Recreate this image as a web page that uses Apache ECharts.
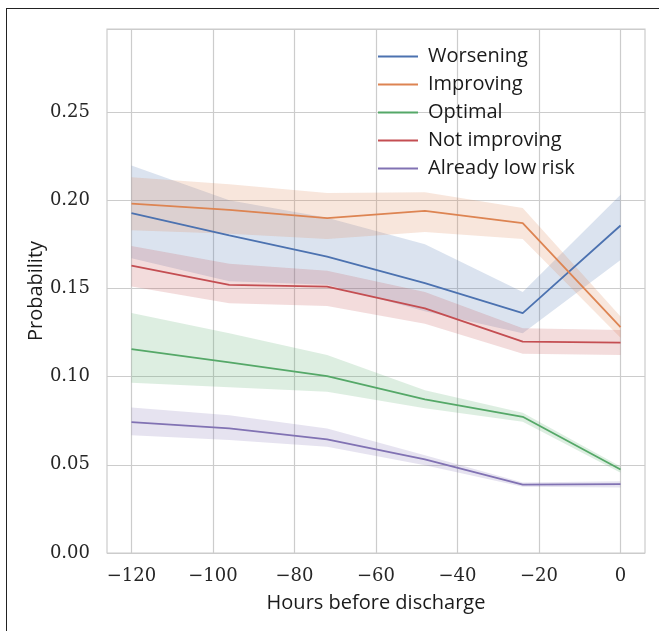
<!DOCTYPE html>
<html>
<head>
<meta charset="utf-8">
<script src="https://cdn.jsdelivr.net/npm/echarts@6/dist/echarts.min.js"></script>
<style>
  html, body { margin: 0; padding: 0; background: #fff; }
  #frame { position: absolute; left: 6px; top: 8px; width: 660px; height: 640px; border: 1.5px solid #222; }
  #chart { position: absolute; left: 0; top: 0; width: 659px; height: 631px; }
</style>
</head>
<body>
<div id="frame"></div>
<div id="chart"></div>
<script>
const hours = [-120, -96, -72, -48, -24, 0];
const xTicks = [-120, -100, -80, -60, -40, -20, 0];

const worseningMean = [0.1926, 0.180, 0.168, 0.153, 0.136, 0.1856];
const worseningLow = [0.167, 0.154, 0.152, 0.137, 0.1245, 0.166];
const worseningHigh = [0.2196, 0.200, 0.190, 0.175, 0.148, 0.203];

const improvingMean = [0.198, 0.1945, 0.1898, 0.1939, 0.187, 0.128];
const improvingLow = [0.183, 0.181, 0.178, 0.182, 0.178, 0.122];
const improvingHigh = [0.213, 0.209, 0.204, 0.2045, 0.1955, 0.134];

const optimalMean = [0.1156, 0.108, 0.1003, 0.0871, 0.0772, 0.0473];
const optimalLow = [0.0965, 0.094, 0.0914, 0.082, 0.0744, 0.0455];
const optimalHigh = [0.136, 0.1245, 0.1122, 0.0923, 0.0795, 0.049];

const notImprovingMean = [0.1629, 0.152, 0.151, 0.1387, 0.1198, 0.1192];
const notImprovingLow = [0.151, 0.1415, 0.140, 0.130, 0.113, 0.1122];
const notImprovingHigh = [0.174, 0.164, 0.160, 0.148, 0.1274, 0.1264];

const lowRiskMean = [0.0742, 0.0706, 0.0644, 0.053, 0.0388, 0.039];
const lowRiskLow = [0.0668, 0.064, 0.0602, 0.0498, 0.0375, 0.0371];
const lowRiskHigh = [0.0825, 0.0781, 0.0706, 0.0554, 0.040, 0.0407];

const groups = [
  { name: "Worsening", color: "#4C72B0", mean: worseningMean, low: worseningLow, high: worseningHigh },
  { name: "Improving", color: "#DD8452", mean: improvingMean, low: improvingLow, high: improvingHigh },
  { name: "Optimal", color: "#55A868", mean: optimalMean, low: optimalLow, high: optimalHigh },
  { name: "Not improving", color: "#C44E52", mean: notImprovingMean, low: notImprovingLow, high: notImprovingHigh },
  { name: "Already low risk", color: "#8172B3", mean: lowRiskMean, low: lowRiskLow, high: lowRiskHigh },
];

const serif = "DejaVu Serif";
const sans = "Open Sans";

const series = [];
groups.forEach((g) => {
  // confidence band drawn once as a polygon through the axis scales
  series.push({
    type: "custom",
    name: g.name + " band",
    data: hours.map((h, i) => [h, g.low[i], g.high[i]]),
    encode: { x: 0, y: [1, 2] },
    silent: true,
    z: 1,
    renderItem: (params, api) => {
      if (params.dataIndex !== 0) return;
      const top = hours.map((h, i) => api.coord([h, g.high[i]]));
      const bottom = hours.map((h, i) => api.coord([h, g.low[i]])).reverse();
      return {
        type: "polygon",
        shape: { points: top.concat(bottom) },
        style: { fill: g.color, opacity: 0.2 },
      };
    },
  });
});
groups.forEach((g) => {
  series.push({
    type: "line",
    name: g.name,
    data: hours.map((h, i) => [h, g.mean[i]]),
    symbol: "none",
    color: g.color,
    lineStyle: { color: g.color, width: 1.8 },
    z: 3,
  });
});

const option = {
  animation: false,
  grid: {
    left: 107, top: 29, right: 14, bottom: 78,
    show: true, borderColor: "#cccccc", borderWidth: 1.2,
  },
  legend: {
    data: groups.map((g) => g.name),
    orient: "vertical",
    left: 373,
    top: 40,
    itemWidth: 40,
    itemHeight: 2,
    itemGap: 5,
    icon: "rect",
    textStyle: { fontFamily: sans, fontSize: 20, color: "#1a1a1a", lineHeight: 23, padding: [0, 0, 0, 5] },
  },
  xAxis: {
    type: "value",
    min: -126,
    max: 6,
    name: "Hours before discharge",
    nameLocation: "middle",
    nameGap: 40,
    nameMoveOverlap: false,
    nameTextStyle: { fontFamily: sans, fontSize: 20, color: "#1a1a1a" },
    axisLine: { show: false },
    axisTick: { show: false, customValues: xTicks },
    axisLabel: {
      customValues: xTicks,
      margin: 14,
      fontFamily: serif, fontSize: 18, color: "#262626",
      formatter: (v) => (v < 0 ? "\u2212" + Math.abs(v) : String(v)),
    },
    splitLine: { show: true, lineStyle: { color: "#cccccc", width: 1.2 } },
  },
  yAxis: {
    type: "value",
    min: 0,
    max: 0.297,
    interval: 0.05,
    name: "Probability",
    nameLocation: "middle",
    nameGap: 61,
    nameMoveOverlap: false,
    nameTextStyle: { fontFamily: sans, fontSize: 20, color: "#1a1a1a" },
    axisLine: { show: false },
    axisTick: { show: false },
    axisLabel: {
      margin: 17,
      showMaxLabel: false,
      fontFamily: serif, fontSize: 18, color: "#262626",
      formatter: (v) => v.toFixed(2),
    },
    splitLine: { show: true, lineStyle: { color: "#cccccc", width: 1.2 } },
  },
  series: series,
};

const myChart = echarts.init(document.getElementById("chart"));
myChart.setOption(option);
</script>
</body>
</html>
